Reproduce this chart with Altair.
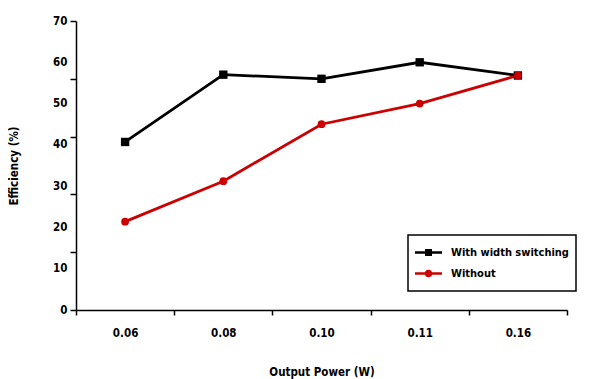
import altair as alt
import pandas as pd

power = ["0.06", "0.08", "0.10", "0.11", "0.16"]
series = ["With width switching", "Without"]
with_switching = [40.7, 57.0, 56.0, 60.0, 56.8]
without = [21.4, 31.2, 45.0, 50.0, 56.8]
y_labels = [0, 10, 20, 30, 40, 50, 60, 70]
y_ticks = [0, 14, 28, 42, 56, 70]

rows = []
for p, v in zip(power, with_switching):
    rows.append({"power": p, "value": v, "series": series[0]})
for p, v in zip(power, without):
    rows.append({"power": p, "value": v, "series": series[1]})
df = pd.DataFrame(rows)

FONT = "DejaVu Sans Condensed, Liberation Sans Narrow, sans-serif"
BLACK = "#000000"
RED = "#cc0000"

color_scale = alt.Scale(domain=series, range=[BLACK, RED])
y_scale = alt.Scale(domain=[0, 70], nice=False)
sq_path = "M-1,-0.09H1V0.09H-1Z M-0.26,-0.26H0.26V0.26H-0.26Z"
ci_path = "M-1,-0.09H1V0.09H-1Z M0.28,0 A0.28,0.28 0 1,1 -0.28,0 A0.28,0.28 0 1,1 0.28,0Z"

x_enc = alt.X(
    "power:N", sort=power, bandPosition=0.5,
    scale=alt.Scale(type="band", paddingInner=0, paddingOuter=0),
    axis=alt.Axis(title="Output Power (W)", tickBand="extent", labelAngle=0,
                  tickSize=5, labelPadding=12, titlePadding=28),
)
y_main = alt.Y(
    "value:Q", scale=y_scale,
    axis=alt.Axis(title="Efficiency (%)", values=y_labels, ticks=False,
                  labelPadding=9, titlePadding=33),
)
y_plain = alt.Y("value:Q", scale=y_scale, axis=None)
y_ticks_enc = alt.Y(
    "value:Q", scale=y_scale,
    axis=alt.Axis(title="", values=y_ticks, labels=False, domain=False,
                  ticks=True, tickSize=6, orient="left"),
)

legend_props = dict(orient="none", legendX=332, legendY=214,
                    symbolSize=729, clipHeight=21, padding=7, rowPadding=0,
                    labelOffset=9, strokeColor=BLACK,
                    symbolStrokeWidth=0, fillColor="white")

base = alt.Chart(df)

legend_layer = base.transform_filter("false").mark_point(filled=True, opacity=1).encode(
    x=x_enc, y=y_plain,
    color=alt.Color("series:N", scale=color_scale, title="",
                    legend=alt.Legend(**legend_props)),
    shape=alt.Shape("series:N", scale=alt.Scale(domain=series, range=[sq_path, ci_path]),
                    title="", legend=alt.Legend(**legend_props)),
)

lines = base.mark_line(strokeWidth=2.8).encode(
    x=x_enc, y=y_main,
    color=alt.Color("series:N", scale=color_scale, legend=None),
)

squares = base.transform_filter(alt.datum.series == series[0]).mark_point(
    shape="square", filled=True, size=70, opacity=1, color=BLACK
).encode(x=x_enc, y=y_plain)

circles = base.transform_filter(alt.datum.series == series[1]).mark_point(
    shape="circle", filled=True, size=60, opacity=1, color=RED
).encode(x=x_enc, y=y_ticks_enc)

chart = alt.layer(legend_layer, lines, squares, circles).resolve_axis(
    y="independent"
).properties(
    width=491, height=289,
    padding={"left": 0, "top": 7, "right": 5, "bottom": 5},
    background="white",
).configure_view(strokeWidth=0).configure_axis(
    grid=False,
    labelFont=FONT, titleFont=FONT,
    labelFontSize=11.5, titleFontSize=11.5,
    labelFontWeight="bold", titleFontWeight="bold",
    labelColor=BLACK, titleColor=BLACK,
    domainColor=BLACK, tickColor=BLACK,
    domainWidth=1.5, tickWidth=1.5,
).configure_legend(
    labelFont=FONT, labelFontSize=11, labelFontWeight="bold", labelColor=BLACK,
    strokeWidth=1.5,
)

chart.save("out.html", embed_options={"renderer": "svg", "actions": False})
